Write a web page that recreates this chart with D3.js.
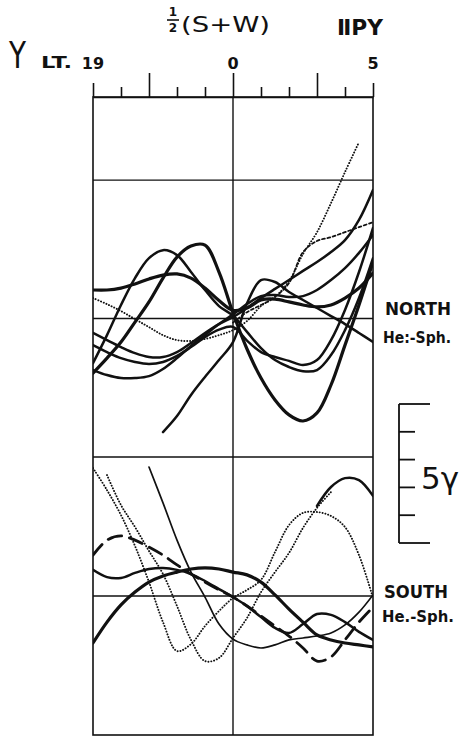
<!DOCTYPE html>
<html>
<head>
<meta charset="utf-8">
<script src="https://cdn.jsdelivr.net/npm/d3@7"></script>
<style>
  body { margin: 0; background: #fff; }
  svg { display: block; }
  text { fill: #111; font-family: "DejaVu Sans", sans-serif; }
</style>
</head>
<body>
<svg id="chart"></svg>
<script>
// --- Data (local time in hours from 0, deviation in gamma) ---
const hours = [-5, -4.5, -4, -3.5, -3, -2.5, -2, -1.5, -1, -0.5, 0, 0.5, 1, 1.5, 2, 2.5, 3, 3.5, 4, 4.5, 5];
const tickHours = [-5, -4, -3, -2, -1, 0, 1, 2, 3, 4, 5];
const majorTicks = [-3, 0, 3];
const tickLabels = [{ h: -5, label: "19" }, { h: 0, label: "0" }, { h: 5, label: "5" }];

// North hemisphere curves
const northA  = [1.03, 1.03, 1.10, 1.25, 1.43, 1.57, 1.61, 1.46, 1.10, 0.65, 0.30, 0.38, 0.67, 0.70, 0.60, 0.49, 0.42, 0.49, 0.74, 1.10, 1.64];
const northD1 = [0.74, 0.52, 0.27, -0.02, -0.31, -0.60, -0.78, -0.81, -0.74, -0.60, -0.42, -0.09, 0.45, 0.78, 1.35, 2.33, 3.12, 4.17, 5.29, 6.37, null];
const north1  = [-1.97, -1.43, -0.85, -0.13, 0.60, 1.46, 2.22, 2.62, 2.65, 1.68, 0.20, -1.10, -2.15, -2.94, -3.48, -3.70, -3.41, -2.40, -0.96, 0.49, 2.04];
const north2  = [-1.61, -0.60, 0.49, 1.46, 2.18, 2.47, 2.29, 1.68, 1.03, 0.45, 0.10, -0.48, -1.07, -1.50, -1.75, -1.90, -1.86, -1.32, -0.42, 0.74, 2.18];
const north3  = [null, null, null, null, null, -4.10, -3.52, -2.76, -2.11, -1.50, -0.85, 0.55, 1.39, 1.32, 0.96, 0.67, 0.38, 0.09, -0.20, -0.52, -0.85];
const north4  = [-0.52, -0.78, -1.03, -1.25, -1.39, -1.39, -1.21, -0.88, -0.52, -0.20, 0.05, 0.38, 0.74, 1.07, 1.39, 1.72, 2.04, 2.40, 2.83, 3.56, 4.64];
const north5  = [-0.96, -1.21, -1.43, -1.57, -1.64, -1.57, -1.35, -1.03, -0.67, -0.40, -0.30, -0.80, -1.21, -1.39, -1.53, -1.68, -1.50, -0.78, 0.31, 1.68, 3.27];
const north6  = [-1.86, -2.04, -2.15, -2.15, -2.08, -1.82, -1.43, -0.99, -0.60, -0.20, 0.15, 0.52, 0.81, 0.85, 0.78, 0.81, 1.03, 1.39, 1.82, 2.37, 3.02];
const northD2 = [null, null, null, null, null, null, null, null, null, null, -0.15, 0.23, 0.49, 0.78, 1.28, 2.40, 2.80, 2.94, 3.12, 3.30, 3.48];

// South hemisphere curves
const southD1 = [4.60, 3.81, 2.91, 1.80, 0.50, -0.94, -1.98, -1.73, -1.08, -0.54, -0.07, 0.22, 0.58, 1.58, 2.55, 2.99, 3.02, 2.88, 2.48, 1.47, -0.07];
const southD2 = [null, 4.35, 3.27, 2.48, 1.62, 0.79, -0.36, -1.58, -2.34, -2.23, -1.51, -0.79, 0.14, 0.86, 1.55, 2.45, 3.17, 3.74, null, null, null];
const southH  = [null, null, null, null, null, null, null, null, null, null, null, null, null, null, null, null, 3.24, 3.92, 4.24, 4.17, 3.60];
const southL  = [null, null, null, null, 4.64, 3.35, 2.01, 0.86, -0.04, -1.01, -1.55, -1.76, -1.87, -1.76, -1.58, -1.51, -1.44, -1.33, -1.04, -0.58, 0.04];
const southDash = [1.47, 2.01, 2.16, 2.01, 1.76, 1.47, 1.12, 0.79, 0.50, 0.22, -0.04, -0.36, -0.72, -1.08, -1.44, -1.87, -2.34, -2.19, -1.58, -0.94, -0.40];
const southW  = [0.94, 0.68, 0.65, 0.83, 0.97, 1.01, 0.94, 0.79, 0.54, 0.25, -0.04, -0.36, -0.76, -1.15, -1.33, -1.01, -0.65, -0.68, -0.94, -1.29, -1.58];
const southT  = [-1.69, -0.94, -0.32, 0.14, 0.50, 0.72, 0.86, 0.97, 1.01, 0.97, 0.86, 0.76, 0.50, 0.04, -0.47, -0.94, -1.40, -1.58, -1.69, -1.76, -1.83];

// --- Layout ---
const W = 462, H = 739;
const ink = "#111";

const svg = d3.select("#chart").attr("width", W).attr("height", H);

const x = d3.scaleLinear().domain([-5, 5]).range([93, 373]);
const yNorth = d3.scaleLinear().domain([-5, 8]).range([457, 97]);
const ySouth = d3.scaleLinear().domain([-5, 5]).range([735, 457]);

// line styles
const styles = {
    thick:   { w: 3.2, dash: null },
    solid:   { w: 2.5, dash: null },
    thin:    { w: 1.7, dash: null },
    dotted:  { w: 1.9, dash: "0.1,2.8" },
    dashdot: { w: 1.7, dash: "3,2.5" },
    dashed:  { w: 2.8, dash: "14,8" }
};

const northSeries = [
    { values: northA, style: "thick" },
    { values: northD1, style: "dotted" },
    { values: north1, style: "thick" },
    { values: north2, style: "solid" },
    { values: north3, style: "solid" },
    { values: north4, style: "solid" },
    { values: north5, style: "solid" },
    { values: north6, style: "solid" },
    { values: northD2, style: "dashdot" }
];
const southSeries = [
    { values: southD1, style: "dotted" },
    { values: southD2, style: "dotted" },
    { values: southH, style: "solid" },
    { values: southL, style: "thin" },
    { values: southDash, style: "dashed" },
    { values: southW, style: "solid" },
    { values: southT, style: "thick" }
];

// --- Frame and grid ---
const grid = svg.append("g").attr("stroke", ink).attr("fill", "none");
grid.append("rect")
    .attr("x", x(-5)).attr("y", yNorth(8))
    .attr("width", x(5) - x(-5)).attr("height", ySouth(-5) - yNorth(8))
    .attr("stroke-width", 1.6);
[yNorth(5), yNorth(0), yNorth(-5), ySouth(0)].forEach(yy => {
    grid.append("line").attr("x1", x(-5)).attr("x2", x(5))
        .attr("y1", yy).attr("y2", yy).attr("stroke-width", 1.4);
});
grid.append("line").attr("x1", x(0)).attr("x2", x(0))
    .attr("y1", yNorth(8)).attr("y2", ySouth(-5)).attr("stroke-width", 1.4);

// --- Top time axis ---
const axis = svg.append("g")
    .attr("transform", `translate(0, ${yNorth(8)})`)
    .call(d3.axisTop(x).tickValues(tickHours).tickSizeOuter(0).tickFormat(""));
axis.select(".domain").attr("stroke", ink).attr("stroke-width", 1.6);
axis.selectAll(".tick line")
    .attr("stroke", ink).attr("stroke-width", 1.6)
    .attr("y2", d => majorTicks.includes(d) ? -24 : (Math.abs(d) === 5 ? -14 : -10));

svg.append("g").selectAll("text")
    .data(tickLabels)
    .enter().append("text")
    .attr("x", d => x(d.h))
    .attr("y", 69)
    .attr("text-anchor", "middle")
    .style("font-size", "16px")
    .style("font-weight", "bold")
    .text(d => d.label);

svg.append("text").attr("x", 41).attr("y", 68)
    .attr("textLength", 31).attr("lengthAdjust", "spacingAndGlyphs")
    .style("font-size", "15px").style("font-weight", "bold").text("LT.");
svg.append("text").attr("x", 9).attr("y", 68)
    .attr("textLength", 17).attr("lengthAdjust", "spacingAndGlyphs")
    .style("font-size", "38px").text("Y");

// title: 1/2 (S+W)   IIPY
svg.append("text").attr("x", 173).attr("y", 16).attr("text-anchor", "middle")
    .style("font-size", "12px").style("font-weight", "bold").text("1");
svg.append("line").attr("x1", 167).attr("x2", 179).attr("y1", 20).attr("y2", 20)
    .attr("stroke", ink).attr("stroke-width", 1.6);
svg.append("text").attr("x", 173).attr("y", 32).attr("text-anchor", "middle")
    .style("font-size", "12px").style("font-weight", "bold").text("2");
svg.append("text").attr("x", 181).attr("y", 32)
    .attr("textLength", 89).attr("lengthAdjust", "spacingAndGlyphs")
    .style("font-size", "21px").text("(S+W)");
svg.append("text").attr("x", 337).attr("y", 35)
    .attr("textLength", 46).attr("lengthAdjust", "spacingAndGlyphs")
    .style("font-size", "22px").style("font-weight", "bold").text("ⅡPY");

// --- Curves ---
svg.append("clipPath").attr("id", "panel")
    .append("rect").attr("x", x(-5)).attr("y", yNorth(8))
    .attr("width", x(5) - x(-5)).attr("height", ySouth(-5) - yNorth(8));

function drawSeries(series, yScale) {
    const line = d3.line()
        .defined(d => d[1] != null)
        .x(d => x(d[0]))
        .y(d => yScale(d[1]))
        .curve(d3.curveCatmullRom.alpha(0.5));
    svg.append("g").attr("clip-path", "url(#panel)")
        .selectAll("path")
        .data(series)
        .enter().append("path")
        .attr("d", s => line(hours.map((h, i) => [h, s.values[i]])))
        .attr("fill", "none")
        .attr("stroke", ink)
        .attr("stroke-width", s => styles[s.style].w)
        .attr("stroke-dasharray", s => styles[s.style].dash)
        .attr("stroke-linecap", "round")
        .attr("stroke-linejoin", "round");
}
drawSeries(northSeries, yNorth);
drawSeries(southSeries, ySouth);

// --- Hemisphere labels ---
const labels = [
    { text: "NORTH", x: 385, y: 315, size: 18, len: 66 },
    { text: "He:-Sph.", x: 383, y: 343, size: 15, len: 68 },
    { text: "SOUTH", x: 384, y: 598, size: 18, len: 64 },
    { text: "He.-Sph.", x: 382, y: 622, size: 15, len: 72 }
];
svg.append("g").selectAll("text")
    .data(labels)
    .enter().append("text")
    .attr("x", d => d.x).attr("y", d => d.y)
    .attr("textLength", d => d.len)
    .attr("lengthAdjust", "spacingAndGlyphs")
    .style("font-size", d => d.size + "px")
    .style("font-weight", "bold")
    .text(d => d.text);

// --- 5 gamma scale bar ---
const barScale = d3.scaleLinear().domain([0, 5]).range([543, 543 - 5 * 27.8]);
const bar = svg.append("g").attr("stroke", ink).attr("stroke-width", 1.8);
bar.append("line").attr("x1", 399).attr("x2", 399).attr("y1", barScale(0)).attr("y2", barScale(5));
bar.selectAll(".bt")
    .data([0, 1, 2, 3, 4, 5])
    .enter().append("line")
    .attr("x1", 399)
    .attr("x2", d => (d === 0 || d === 5) ? 430 : 415)
    .attr("y1", d => barScale(d)).attr("y2", d => barScale(d));
svg.append("text").attr("x", 421).attr("y", 489)
    .attr("textLength", 38).attr("lengthAdjust", "spacingAndGlyphs")
    .style("font-size", "30px").text("5γ");
</script>
</body>
</html>
